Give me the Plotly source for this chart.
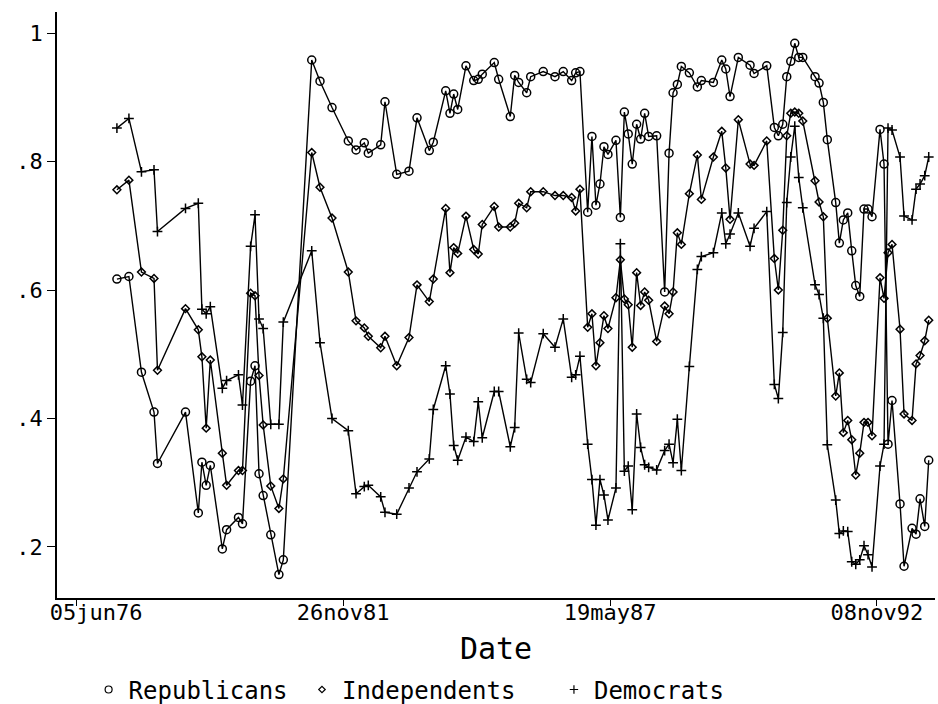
import plotly.graph_objects as go

# Stata elapsed dates (days since 01jan1960)
date_td = [6304, 6394, 6488, 6582, 6608, 6818, 6914, 6941, 6973, 7004,
           7094, 7126, 7215, 7245, 7306, 7339, 7369, 7400, 7457, 7518,
           7551, 7764, 7826, 7916, 8038, 8096, 8158, 8188, 8281, 8313,
           8401, 8493, 8553, 8645, 8675, 8768, 8800, 8828, 8858, 8920,
           8978, 9012, 9042, 9132, 9165, 9252, 9285, 9315, 9375, 9405,
           9499, 9587, 9649, 9712, 9742, 9774, 9832, 9864, 9894, 9924,
           9954, 9984, 10044, 10077, 10107, 10136, 10166, 10199, 10229, 10259,
           10289, 10349, 10409, 10442, 10472, 10504, 10534, 10594, 10654, 10684,
           10774, 10837, 10867, 10899, 10961, 11049, 11079, 11174, 11231, 11261,
           11294, 11324, 11354, 11384, 11414, 11444, 11536, 11566, 11598, 11628,
           11691, 11718, 11748, 11781, 11811, 11841, 11871, 11903, 11933, 11963,
           12023, 12053, 12083, 12113, 12173, 12203, 12263, 12293, 12323, 12358,
           12388]

republicans = [.617, .621, .472, .410, .330, .410, .253, .332, .296, .327,
               .197, .227, .246, .236, .458, .482, .314, .280, .219, .157,
               .180, .958, .925, .884, .832, .818, .829, .813, .826, .893,
               .780, .785, .868, .817, .830, .910, .875, .905, .881, .949,
               .926, .928, .936, .954, .928, .870, .934, .923, .907, .932,
               .940, .932, .940, .926, .938, .940, .721, .839, .732, .765,
               .823, .811, .833, .713, .877, .843, .796, .858, .835, .875,
               .839, .840, .597, .813, .907, .920, .948, .938, .916, .926,
               .923, .958, .944, .901, .962, .950, .937, .949, .853, .840,
               .858, .932, .956, .984, .962, .962, .932, .922, .892, .834,
               .736, .673, .709, .720, .661, .607, .590, .726, .726, .714,
               .850, .796, .360, .428, .267, .170, .229, .220, .275, .232,
               .335]

independents = [.756, .771, .628, .618, .475, .571, .538, .496, .385, .491,
                .346, .296, .319, .319, .595, .591, .467, .390, .295, .260,
                .306, .814, .760, .712, .628, .552, .541, .528, .510, .528,
                .482, .526, .608, .582, .617, .727, .627, .666, .657, .715,
                .663, .656, .702, .730, .698, .698, .704, .735, .728, .753,
                .753, .747, .747, .744, .723, .757, .542, .563, .482, .518,
                .560, .540, .588, .647, .586, .577, .511, .627, .576, .597,
                .584, .520, .575, .563, .597, .689, .671, .750, .810, .741,
                .807, .847, .790, .710, .865, .796, .794, .832, .649, .600,
                .693, .840, .875, .877, .875, .863, .770, .737, .714, .556,
                .435, .471, .378, .397, .367, .312, .346, .394, .394, .373,
                .619, .587, .658, .671, .539, .407, .397, .485, .498, .521,
                .553]

democrats = [.852, .867, .784, .787, .691, .727, .735, .570, .563, .574,
             .447, .459, .468, .421, .668, .717, .555, .540, .391, .391,
             .550, .661, .518, .400, .381, .283, .294, .296, .278, .254,
             .251, .292, .317, .337, .414, .482, .438, .358, .335, .371,
             .364, .426, .370, .442, .442, .356, .386, .533, .461, .456,
             .532, .511, .555, .464, .468, .497, .360, .305, .234, .305,
             .281, .242, .292, .672, .318, .326, .258, .407, .355, .328,
             .324, .320, .350, .360, .331, .399, .319, .481, .632, .652,
             .658, .720, .672, .687, .720, .668, .696, .722, .453, .431,
             .534, .736, .807, .855, .775, .728, .608, .593, .556, .359,
             .273, .221, .225, .224, .177, .173, .180, .202, .188, .169,
             .326, .360, .852, .849, .807, .715, .709, .757, .765, .778,
             .807]

x_tick_vals = [6000, 8000, 10000, 12000]
x_tick_text = ["05jun76", "26nov81", "19may87", "08nov92"]
y_tick_vals = [0.2, 0.4, 0.6, 0.8, 1.0]
y_tick_text = [".2", ".4", ".6", ".8", "1"]

# first label sits just inside the axis corner, as in the original
x_tick_disp = ["\u00a0" * 3 + x_tick_text[0]] + x_tick_text[1:]

series = [
    ("Republicans", republicans, "circle-open", 8, "legend", 0.036),
    ("Independents", independents, "diamond-open", 6, "legend2", 0.279),
    ("Democrats", democrats, "cross-thin-open", 7, "legend3", 0.566),
]

FONT = "DejaVu Sans Mono"
fig = go.Figure()
for name, vals, sym, size, lg, lx in series:
    fig.add_trace(go.Scatter(
        x=date_td, y=vals, mode="lines+markers", name=name, showlegend=False,
        line=dict(color="black", width=1.4),
        marker=dict(symbol=sym, size=size, color="black",
                    line=dict(color="black", width=1.5)),
    ))
for name, vals, sym, size, lg, lx in series:
    fig.add_trace(go.Scatter(
        x=[None], y=[None], mode="markers", name=name, showlegend=True,
        legend=lg,
        marker=dict(symbol=sym, size=size - 1, color="black",
                    line=dict(color="black", width=1.2)),
    ))

legend_common = dict(orientation="h", xanchor="left", yref="container",
                     y=0.02, yanchor="middle", font=dict(size=24, family=FONT),
                     itemwidth=30, bgcolor="rgba(0,0,0,0)")

fig.update_layout(
    width=938, height=704,
    margin=dict(l=57, r=3, t=12, b=106, autoexpand=False),
    paper_bgcolor="white", plot_bgcolor="white",
    font=dict(family=FONT, color="black"),
    xaxis=dict(
        range=[5855, 12435], tickvals=x_tick_vals, ticktext=x_tick_disp,
        showgrid=False, zeroline=False, showline=True, linecolor="black",
        linewidth=1.5, ticks="outside", ticklen=6, tickwidth=1.2,
        tickcolor="black", tickfont=dict(size=22, family=FONT),
        ticklabelstandoff=-12, automargin=False,
        title=dict(text="Date", font=dict(size=30, family=FONT), standoff=14),
    ),
    yaxis=dict(
        range=[0.1206, 1.0327], tickvals=y_tick_vals, ticktext=y_tick_text,
        showgrid=False, zeroline=False, showline=True, linecolor="black",
        linewidth=1.5, ticks="outside", ticklen=8, tickwidth=1.2,
        tickcolor="black", tickfont=dict(size=22, family=FONT),
        automargin=False,
    ),
    legend=dict(x=series[0][5], **legend_common),
    legend2=dict(x=series[1][5], **legend_common),
    legend3=dict(x=series[2][5], **legend_common),
)

fig.write_html("out.html", config={"displayModeBar": False},
               post_script="document.body.style.margin='0px';")
